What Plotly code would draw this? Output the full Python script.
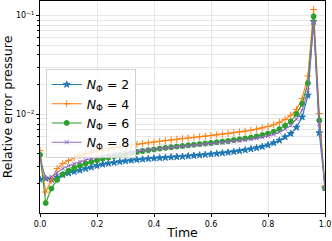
import plotly.graph_objects as go

time = [round(i * 0.02, 2) for i in range(51)]

err_n2 = [0.0022, 0.00225, 0.0022, 0.00232, 0.00244, 0.00255, 0.00264, 0.00272, 0.00282, 0.00292,
          0.00303, 0.00313, 0.0032, 0.00326, 0.00332, 0.00338, 0.00343, 0.00348, 0.00352, 0.00356,
          0.0036, 0.00363, 0.00366, 0.00369, 0.00372, 0.00375, 0.00379, 0.00383, 0.00387, 0.00391,
          0.00396, 0.00401, 0.00407, 0.00413, 0.0042, 0.00428, 0.00437, 0.00447, 0.00458, 0.00472,
          0.0049, 0.00515, 0.00546, 0.0059, 0.0064, 0.0074, 0.0094, 0.0156, 0.087, 0.0065, 0.0018]

err_n4 = [0.0043, 0.00164, 0.00216, 0.00283, 0.00318, 0.00343, 0.00366, 0.00386, 0.004, 0.00417,
          0.00432, 0.0044, 0.00452, 0.00462, 0.00472, 0.00481, 0.0049, 0.00499, 0.00508, 0.00517,
          0.00526, 0.00535, 0.00544, 0.00553, 0.00562, 0.0057, 0.00578, 0.00586, 0.00594, 0.00603,
          0.00612, 0.00621, 0.00631, 0.00641, 0.00652, 0.00664, 0.00677, 0.00692, 0.0071, 0.0073,
          0.00755, 0.00785, 0.0083, 0.0089, 0.0098, 0.0112, 0.0145, 0.0245, 0.115, 0.0102, 0.0019]

err_n6 = [0.0039, 0.00127, 0.00178, 0.00218, 0.00248, 0.0027, 0.00288, 0.00303, 0.00318, 0.00331,
          0.00344, 0.00356, 0.00367, 0.00378, 0.00388, 0.00398, 0.00408, 0.00417, 0.00426, 0.00435,
          0.00443, 0.00451, 0.00459, 0.00466, 0.00473, 0.0048, 0.00487, 0.00494, 0.00501, 0.00508,
          0.00515, 0.00523, 0.00531, 0.0054, 0.0055, 0.0056, 0.00572, 0.00585, 0.006, 0.00618,
          0.0064, 0.00668, 0.0071, 0.0077, 0.0085, 0.0101, 0.0128, 0.0207, 0.098, 0.0087, 0.0018]

err_n8 = [0.0036, 0.00225, 0.00235, 0.00257, 0.00283, 0.00303, 0.00318, 0.00333, 0.00346, 0.00358,
          0.00369, 0.00379, 0.00388, 0.00396, 0.00404, 0.00411, 0.00418, 0.00425, 0.00432, 0.00439,
          0.00445, 0.00451, 0.00457, 0.00463, 0.00469, 0.00475, 0.00481, 0.00487, 0.00493, 0.00499,
          0.00505, 0.00511, 0.00518, 0.00525, 0.00533, 0.00541, 0.0055, 0.0056, 0.00572, 0.00586,
          0.00604, 0.00628, 0.0066, 0.0071, 0.0077, 0.009, 0.011, 0.0175, 0.085, 0.008, 0.0018]

labels = ["<i>N</i><sub>Φ</sub> = 2", "<i>N</i><sub>Φ</sub> = 4",
          "<i>N</i><sub>Φ</sub> = 6", "<i>N</i><sub>Φ</sub> = 8"]
x_ticks = [0.0, 0.2, 0.4, 0.6, 0.8, 1.0]
x_tick_text = ["0.0", "0.2", "0.4", "0.6", "0.8", "1.0"]
y_major = [0.01, 0.1]
y_major_text = ["10<sup>−2</sup>", "10<sup>−1</sup>"]
y_minor = [m * 10.0 ** e for e in (-3, -2, -1) for m in range(2, 10)]

series = [err_n2, err_n4, err_n6, err_n8]
colors = ["#1f77b4", "#ff7f0e", "#2ca02c", "#9467bd"]
symbols = ["star", "cross-thin", "circle", "x-thin"]
sizes = [5, 5, 5, 4]

fig = go.Figure()
for ys, lab, c, s, sz in zip(series, labels, colors, symbols, sizes):
    fig.add_trace(go.Scatter(
        x=time, y=ys, name=lab, mode="lines+markers",
        line=dict(color=c, width=1.1),
        marker=dict(symbol=s, size=sz, color=c, line=dict(color=c, width=1)),
    ))

fig.update_layout(
    width=332, height=241,
    margin=dict(l=40, r=7, t=1, b=28),
    paper_bgcolor="white", plot_bgcolor="white",
    font=dict(family="DejaVu Sans", color="black", size=9),
    showlegend=True,
    legend=dict(
        x=0.02, y=0.68, xanchor="left", yanchor="top",
        bgcolor="rgba(255,255,255,0.8)", bordercolor="#d0d0d0", borderwidth=1,
        font=dict(size=12.5, family="DejaVu Sans"),
        tracegroupgap=0, itemwidth=30,
    ),
)
fig.update_xaxes(
    range=[0, 1], tickvals=x_ticks, ticktext=x_tick_text, automargin=False,
    showgrid=True, gridcolor="#e6e6e6", gridwidth=1,
    showline=True, mirror=True, linecolor="black", linewidth=1,
    ticks="outside", ticklen=3, tickcolor="black", zeroline=False,
    tickfont=dict(size=8),
    title=dict(text="Time", font=dict(size=12.5), standoff=0),
)
fig.update_yaxes(
    type="log", range=[-2.997, -0.853], automargin=False,
    tickvals=y_major, ticktext=y_major_text,
    showgrid=True, gridcolor="#e6e6e6", gridwidth=1,
    showline=True, mirror=True, linecolor="black", linewidth=1,
    ticks="outside", ticklen=3, tickcolor="black", zeroline=False,
    tickfont=dict(size=8),
    minor=dict(tickvals=y_minor, showgrid=True, gridcolor="#e6e6e6",
               ticks="outside", ticklen=2, tickcolor="black"),
    title=dict(text="Relative error pressure", font=dict(size=12.5), standoff=1),
)

fig.write_html("out.html", config={"displayModeBar": False},
               post_script="document.body.style.margin='0';document.body.style.overflow='hidden';")
